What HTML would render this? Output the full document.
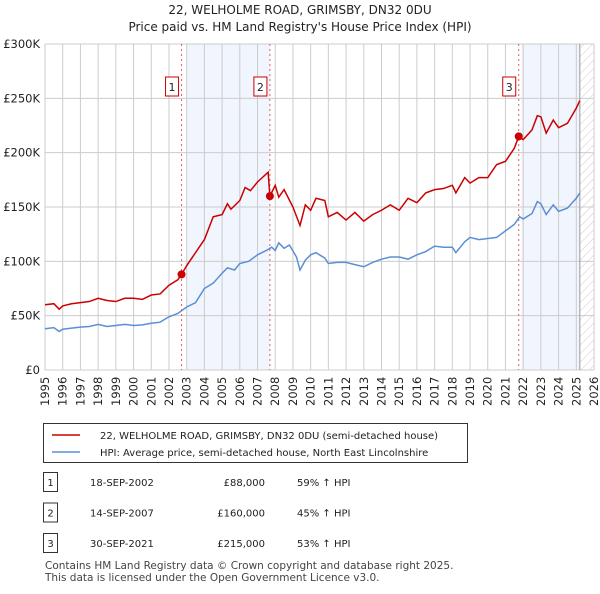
<!DOCTYPE html>
<html><head><meta charset="utf-8"><style>
body{margin:0;background:#fff;font-family:"DejaVu Sans","Liberation Sans",sans-serif;}
svg text{font-family:"DejaVu Sans","Liberation Sans",sans-serif;}
</style></head><body>
<svg width="600" height="590" viewBox="0 0 600 590">
<defs><pattern id="hatch" width="6" height="6" patternUnits="userSpaceOnUse" patternTransform="rotate(45)"><line x1="0" y1="0" x2="0" y2="6" stroke="#ccc" stroke-width="1"/></pattern></defs>
<text x="300" y="14" text-anchor="middle" font-size="12" fill="#222">22, WELHOLME ROAD, GRIMSBY, DN32 0DU</text>
<text x="300" y="31" text-anchor="middle" font-size="12" fill="#222">Price paid vs. HM Land Registry's House Price Index (HPI)</text>
<g id="plot"></g>
<g id="legend">
<rect x="43.5" y="423.5" width="424" height="39" fill="#fff" stroke="#333"/>
<line x1="52" y1="435" x2="80" y2="435" stroke="#cc0000" stroke-width="1.5"/>
<text x="100" y="439" font-size="10" fill="#222">22, WELHOLME ROAD, GRIMSBY, DN32 0DU (semi-detached house)</text>
<line x1="52" y1="452" x2="80" y2="452" stroke="#5b8fd4" stroke-width="1.5"/>
<text x="100" y="456" font-size="10" fill="#222">HPI: Average price, semi-detached house, North East Lincolnshire</text>
</g>
<g id="table" font-size="10" fill="#222"></g>
<text x="45" y="569" font-size="10.5" fill="#444">Contains HM Land Registry data © Crown copyright and database right 2025.</text>
<text x="45" y="581" font-size="10.5" fill="#444">This data is licensed under the Open Government Licence v3.0.</text>
</svg>
<script>
const hpiYears=[1995,1995.5,1995.8,1996,1996.5,1997,1997.5,1998,1998.5,1999,1999.5,2000,2000.5,2001,2001.5,2002,2002.5,2003,2003.5,2004,2004.5,2005,2005.3,2005.7,2006,2006.5,2007,2007.5,2007.8,2008,2008.2,2008.5,2008.8,2009.2,2009.4,2009.7,2010,2010.3,2010.8,2011,2011.5,2012,2012.5,2013,2013.5,2014,2014.5,2015,2015.5,2016,2016.5,2017,2017.5,2018,2018.2,2018.7,2019,2019.5,2020,2020.5,2021,2021.5,2021.8,2022,2022.5,2022.8,2023,2023.3,2023.7,2024,2024.5,2025,2025.2];
const hpiValues=[38,39,35.5,37.5,38.5,39.5,40,42,40,41,42,41,41.5,43,44,49,52,58,62,75,80,89,94,92,98,100,106,110,113,110,117,112,115,104,92,101,106,108,103,98,99,99,97,95,99,102,104,104,102,106,109,114,113,113,108,118,122,120,121,122,128,134,141,139,144,155,153,143,152,146,149,158,163];
const priceYears=[1995,1995.5,1995.8,1996,1996.5,1997,1997.5,1998,1998.5,1999,1999.5,2000,2000.5,2001,2001.5,2002,2002.5,2002.71,2003,2003.5,2004,2004.5,2005,2005.3,2005.5,2006,2006.3,2006.6,2007,2007.6,2007.7,2008,2008.2,2008.5,2009,2009.4,2009.7,2010,2010.3,2010.8,2011,2011.5,2012,2012.5,2013,2013.5,2014,2014.5,2015,2015.5,2016,2016.5,2017,2017.5,2018,2018.2,2018.7,2019,2019.5,2020,2020.5,2021,2021.5,2021.75,2022,2022.5,2022.8,2023,2023.3,2023.7,2024,2024.5,2025,2025.2];
const priceValues=[60,61,56,59,61,62,63,66,64,63,66,66,65,69,70,78,83,88,96,108,120,141,143,153,148,156,168,165,173,182,160,170,159,166,150,133,152,147,158,156,141,145,138,145,137,143,147,152,147,158,154,163,166,167,170,163,177,172,177,177,189,192,204,215,212,221,234,233,218,230,223,227,241,248];
const yTicks=[0,50,100,150,200,250,300];
const yTickLabels=["£0","£50K","£100K","£150K","£200K","£250K","£300K"];
const xTicks=[1995,1996,1997,1998,1999,2000,2001,2002,2003,2004,2005,2006,2007,2008,2009,2010,2011,2012,2013,2014,2015,2016,2017,2018,2019,2020,2021,2022,2023,2024,2025,2026];
const saleLabels=["1","2","3"];
const saleYears=[2002.71,2007.7,2021.75];
const salePrices=[88,160,215];
const saleDates=["18-SEP-2002","14-SEP-2007","30-SEP-2021"];
const salePriceText=["£88,000","£160,000","£215,000"];
const saleHpiText=["59% ↑ HPI","45% ↑ HPI","53% ↑ HPI"];
const shadeRanges=[[2003.0,2007.7],[2021.9,2025.2]];
const dataEnd=2025.2;

const NS="http://www.w3.org/2000/svg";
const L=45,R=594,T=44,B=370;
const X=y=>L+(y-1995)/(2026-1995)*(R-L);
const Y=v=>B-v/300*(B-T);
function mk(p,tag,a){const e=document.createElementNS(NS,tag);for(const k in a)e.setAttribute(k,a[k]);p.appendChild(e);return e;}
const plot=document.getElementById('plot');
for(const [a,b] of shadeRanges){
 const r=mk(plot,'rect',{x:X(a),y:T,width:X(b)-X(a),height:B-T,fill:'#eef3fc',opacity:0.8});
 
 
}
const h=mk(plot,'rect',{x:X(dataEnd),y:T,width:R-X(dataEnd),height:B-T,fill:'url(#hatch)'});


xTicks.forEach(t=>{
 const l=mk(plot,'line',{x1:X(t),x2:X(t),y1:T,y2:B,stroke:'#cccccc','stroke-width':1});
 
 
 const tx=mk(plot,'text',{x:0,y:0,transform:`translate(${X(t)+4},${B+36}) rotate(-90)`,'font-size':11.5,fill:'#222'});
 tx.textContent=t;
 
 
});
yTicks.forEach((t,i)=>{
 const l=mk(plot,'line',{x1:L,x2:R,y1:Y(t),y2:Y(t),stroke:'#cccccc','stroke-width':1});
 
 
 const tx=mk(plot,'text',{x:L-5,y:Y(t)+4,'text-anchor':'end','font-size':11.5,fill:'#222'});
 tx.textContent=yTickLabels[i];
 
 
});
const el=mk(plot,'line',{x1:X(dataEnd),x2:X(dataEnd),y1:T,y2:B,stroke:'#999','stroke-width':1});


saleYears.forEach((s,i)=>{
 const l=mk(plot,'line',{x1:X(s),x2:X(s),y1:T,y2:B,stroke:'#e06060','stroke-width':1,'stroke-dasharray':'2,3'});
 
 
 const bx=mk(plot,'rect',{x:X(s)-16,y:77,width:13,height:19,fill:'#fff',stroke:'#cc0000'});
 
 
 const t=mk(plot,'text',{x:X(s)-9.5,y:91,'text-anchor':'middle','font-size':11,fill:'#222'});
 t.textContent=saleLabels[i];
 
 
});
const hp=mk(plot,'polyline',{points:hpiYears.map((y,i)=>X(y)+','+Y(hpiValues[i])).join(' '),fill:'none',stroke:'#5b8fd4','stroke-width':1.5});


const pp=mk(plot,'polyline',{points:priceYears.map((y,i)=>X(y)+','+Y(priceValues[i])).join(' '),fill:'none',stroke:'#cc0000','stroke-width':1.5});


saleYears.forEach((s,i)=>{
 const c=mk(plot,'circle',{cx:X(s),cy:Y(salePrices[i]),r:4,fill:'#cc0000'});
 
 
});
const tb=document.getElementById('table');
saleLabels.forEach((s,i)=>{
 const y=484+i*30.5;
 const b=mk(tb,'rect',{x:43.5,y:y-11.5,width:14,height:19,fill:'#fff',stroke:'#333'});
 
 
 const cells=[[50.5,s,'middle'],[90,saleDates[i],'start'],[265,salePriceText[i],'end'],[297,saleHpiText[i],'start']];
 cells.forEach(([x,txt,an])=>{
  const t=mk(tb,'text',{x:x,y:y+2,'text-anchor':an,'font-size':10,fill:'#222'});
  t.textContent=txt;
  
  
 });
});
</script>
</body></html>
